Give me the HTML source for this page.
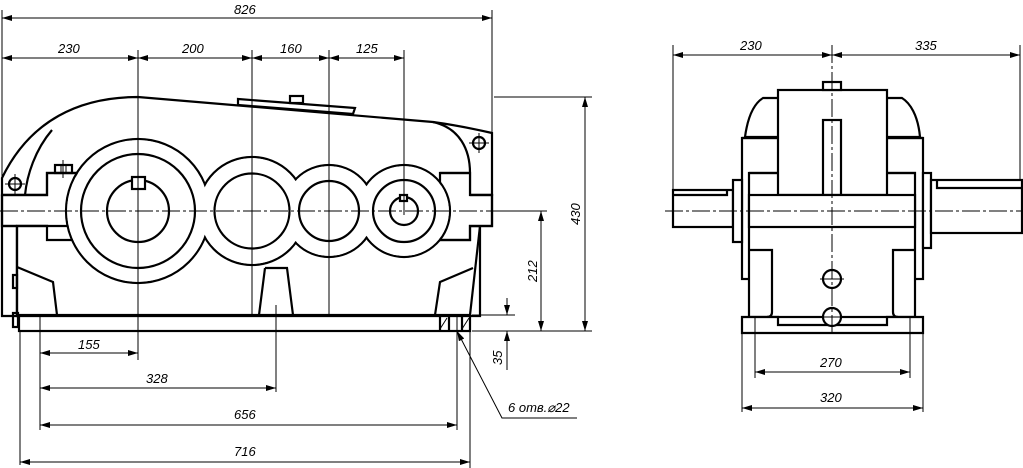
<!DOCTYPE html>
<html><head><meta charset="utf-8"><style>
html,body{margin:0;padding:0;background:#fff}
svg{display:block}
text{font-family:"Liberation Sans",sans-serif;font-style:italic;font-size:13px;fill:#000}
.t{stroke:#000;stroke-width:2.2;fill:none}
.w{stroke:#000;stroke-width:2.2;fill:#fff}
.d{stroke:#000;stroke-width:1;fill:none}
.c{stroke:#000;stroke-width:1;fill:none;stroke-dasharray:18 3 3 3}
</style></head><body>
<svg width="1023" height="468" viewBox="0 0 1023 468" xmlns="http://www.w3.org/2000/svg">
<defs>
<marker id="a" viewBox="0 0 10 6" refX="10" refY="3" markerWidth="10" markerHeight="6" orient="auto-start-reverse" markerUnits="userSpaceOnUse"><path d="M0,0 L10,3 L0,6 z" fill="#000"/></marker>
</defs>

<!-- ===== FRONT VIEW ===== -->
<!-- top housing -->
<path class="w" d="M2,178 C30,120 80,97 138,97 L433,122 C455,125 470,128 492,133 L492,195 L2,195 Z"/>
<path class="t" d="M52,130 C35,150 27,175 25,195"/>
<path class="t" d="M433,122 C460,128 470,150 470,173 L470,195"/>
<!-- lid plate -->
<path class="w" d="M238,99 L355,108 L353,114 L238,105 Z"/>
<rect class="w" x="290" y="96" width="13" height="7"/>
<!-- left flange/body -->
<path class="w" d="M2,195 L47,195 L47,173 L77,173 L77,240 L47,240 L47,226 L17,226 L17,316 L2,316 Z" />
<path class="t" d="M2,195 L2,226 L17,226"/>
<path class="w" d="M17,226 L17,316 L480,316 L480,226 Z" stroke="none"/>
<path class="t" d="M17,226 L17,316"/>
<path class="t" d="M480,226 L470,315"/>
<!-- right flange -->
<path class="w" d="M470,173 L470,195 L492,195 L492,226 L470,226 L470,240 L440,240 L440,173 Z" stroke="none"/>
<path class="t" d="M470,173 L440,173"/>
<path class="t" d="M470,195 L492,195 L492,226 L470,226 L470,240 L440,240"/>
<!-- left flange lines -->
<path class="t" d="M2,195 L47,195 L47,173 L77,173"/>
<path class="t" d="M2,226 L47,226 L47,240 L72,240"/>
<!-- gear outer union -->
<g class="t">
<circle cx="138" cy="211" r="72"/>
<circle cx="252" cy="211" r="54"/>
<circle cx="329" cy="211" r="46"/>
<circle cx="404" cy="211" r="46"/>
</g>
<g fill="#fff">
<circle cx="138" cy="211" r="70.9"/>
<circle cx="252" cy="211" r="52.9"/>
<circle cx="329" cy="211" r="44.9"/>
<circle cx="404" cy="211" r="44.9"/>
</g>
<g class="t">
<circle cx="138" cy="211" r="57"/>
<circle cx="138" cy="211" r="31"/>
<circle cx="252" cy="211" r="37.5"/>
<circle cx="329" cy="211" r="30"/>
<circle cx="404" cy="211" r="31"/>
<circle cx="404" cy="211" r="14"/>
</g>
<rect class="w" x="132" y="177" width="13" height="12"/>
<rect class="w" x="400" y="195" width="7" height="6"/>
<!-- small item left -->
<rect class="t" x="55" y="165" width="17" height="8"/>
<path class="d" d="M61,165 V173 M66,165 V173 M63,160 V178"/>
<!-- holes -->
<circle class="w" cx="15" cy="184" r="6"/>
<circle class="w" cx="479" cy="143" r="6"/>
<path class="d" d="M5,184 H25 M15,174 V194 M469,143 H489 M479,133 V153"/>
<!-- feet -->
<path class="t" d="M17,267 L53,282 L57,315"/>
<path class="t" d="M473,268 L440,282 L435,315"/>
<path class="t" d="M265,268 L287,268 L293,315 M265,268 L259,315"/>
<rect class="t" x="13" y="275" width="4" height="13"/>
<rect class="t" x="13" y="313" width="5" height="14"/>
<!-- base plate -->
<rect class="t" x="19" y="315" width="451" height="16"/>
<path class="t" d="M440,315 V331 M449,315 V331 M462,315 V331"/>
<path class="d" d="M440,329 L447,318 M462,329 L469,318"/>
<!-- centerlines -->
<path class="c" d="M0,211 H520"/>
<path class="d" d="M138,50 V360 M252,50 V315 M329,50 V315 M404,50 V215 M276,305 V392"/>
<!-- dimensions top -->
<path class="d" d="M2,10 V196 M492,10 V133"/>
<path class="d" d="M2,18 H492" marker-start="url(#a)" marker-end="url(#a)"/>
<text x="234" y="14">826</text>
<path class="d" d="M2,58 H404" />
<path class="d" d="M2,58 H138" marker-start="url(#a)" marker-end="url(#a)"/>
<path class="d" d="M138,58 H252" marker-start="url(#a)" marker-end="url(#a)"/>
<path class="d" d="M252,58 H329" marker-start="url(#a)" marker-end="url(#a)"/>
<path class="d" d="M329,58 H404" marker-start="url(#a)" marker-end="url(#a)"/>
<text x="58" y="53">230</text><text x="182" y="53">200</text><text x="280" y="53">160</text><text x="356" y="53">125</text>
<!-- right dims -->
<path class="d" d="M494,97 H592 M494,211 H547 M472,331 H592 M472,315 H515"/>
<path class="d" d="M585,97 V331" marker-start="url(#a)" marker-end="url(#a)"/>
<path class="d" d="M541,211 V331" marker-start="url(#a)" marker-end="url(#a)"/>
<path class="d" d="M507,298 V315" marker-end="url(#a)"/>
<path class="d" d="M507,370 V331" marker-end="url(#a)"/>
<text transform="translate(580,225) rotate(-90)">430</text>
<text transform="translate(537,282) rotate(-90)">212</text>
<text transform="translate(502,365) rotate(-90)">35</text>
<!-- bottom dims -->
<path class="d" d="M40,315 V430 M20,331 V465 M457,315 V430 M470,331 V468"/>
<path class="d" d="M40,353 H138" marker-start="url(#a)" marker-end="url(#a)"/>
<path class="d" d="M40,388 H276" marker-start="url(#a)" marker-end="url(#a)"/>
<path class="d" d="M40,425 H457" marker-start="url(#a)" marker-end="url(#a)"/>
<path class="d" d="M20,462 H470" marker-start="url(#a)" marker-end="url(#a)"/>
<text x="78" y="349">155</text><text x="146" y="383">328</text><text x="234" y="419">656</text><text x="234" y="456">716</text>
<path class="d" d="M577,418 H502 L457,331" marker-end="url(#a)"/>
<text x="508" y="412">6 отв.⌀22</text>

<!-- ===== SIDE VIEW ===== -->
<path class="w" d="M745,137 C748,115 755,103 763,98 L902,98 C910,103 918,115 920,137 Z"/>
<rect class="w" x="742" y="138" width="181" height="141"/>
<rect class="w" x="749" y="173" width="166" height="144"/>
<rect class="w" x="778" y="90" width="109" height="105"/>
<rect class="w" x="823" y="82" width="18" height="8"/>
<rect class="w" x="823" y="120" width="18" height="75"/>
<path class="t" d="M742,138 H778 M749,173 H778 M887,138 H923 M887,173 H916"/>
<rect class="w" x="673" y="190" width="60" height="37"/>
<path class="t" d="M673,195 H727 V190"/>
<rect class="w" x="733" y="180" width="9" height="62"/>
<rect class="w" x="749" y="195" width="166" height="32"/>
<rect class="w" x="923" y="173" width="8" height="75"/>
<rect class="w" x="931" y="180" width="91" height="53"/>
<path class="t" d="M937,180 V188 H1022"/>
<path class="t" d="M749,250 H772 V312 Q772,317 767,317 M916,250 H893 V312 Q893,317 898,317"/>
<path class="w" d="M742,317 H778 V325 H887 V317 H923 V333 H742 Z"/>
<circle class="w" cx="832" cy="279" r="9"/>
<circle class="w" cx="832" cy="317" r="9"/>
<path class="d" d="M820,279 H844 M820,317 H844"/>
<path class="c" d="M832,45 V335 M665,211 H1022"/>
<path class="d" d="M673,45 V190 M1020,45 V180"/>
<path class="d" d="M673,55 H832" marker-start="url(#a)" marker-end="url(#a)"/>
<path class="d" d="M832,55 H1020" marker-start="url(#a)" marker-end="url(#a)"/>
<text x="740" y="50">230</text><text x="915" y="50">335</text>
<path class="d" d="M755,317 V378 M910,317 V378 M742,333 V412 M923,333 V412"/>
<path class="d" d="M755,372 H910" marker-start="url(#a)" marker-end="url(#a)"/>
<path class="d" d="M742,408 H923" marker-start="url(#a)" marker-end="url(#a)"/>
<text x="820" y="367">270</text><text x="820" y="402">320</text>
</svg>
</body></html>
